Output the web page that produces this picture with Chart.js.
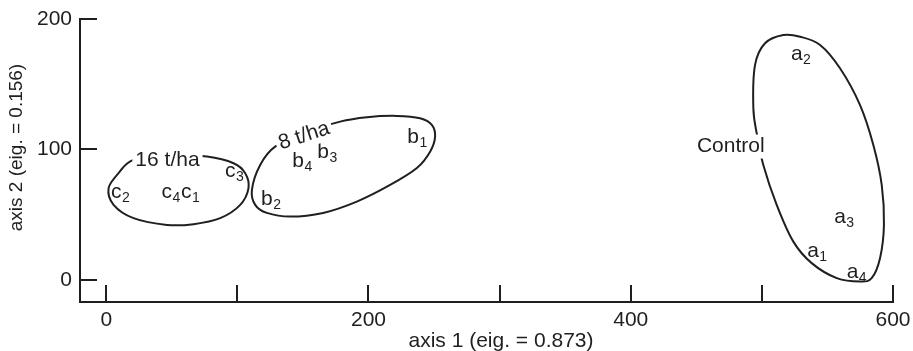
<!DOCTYPE html>
<html><head><meta charset="utf-8">
<script src="https://cdn.jsdelivr.net/npm/chart.js@4.4.1/dist/chart.umd.min.js"></script>
<style>html,body{margin:0;padding:0;background:#fff}#wrap{width:913px;height:351px}</style>
</head><body><div id="wrap"><canvas id="c" width="913" height="351"></canvas></div>
<script>
// ---- data ----
const xTickValues = [0, 100, 200, 300, 400, 500, 600];
const xTickLabels = ['0', '', '200', '', '400', '', '600'];
const yTickValues = [0, 100, 200];
const yTickLabels = ['0', '100', '200'];

const sampleLetter = ['c', 'c', 'c', 'c', 'b', 'b', 'b', 'b', 'a', 'a', 'a', 'a'];
const sampleSub    = ['1', '2', '3', '4', '1', '2', '3', '4', '1', '2', '3', '4'];
const sampleX = [61.0, 7.6, 94.5, 46.1, 234.0, 122.5, 165.4, 146.4, 539.0, 526.6, 559.6, 569.1];
const sampleY = [67.0, 66.7, 83.1, 67.0, 108.8, 61.3, 97.3, 90.6, 21.7, 172.4, 47.5, 5.7];

const groupNames = ['16 t/ha', '8 t/ha', 'Control'];
const groupX = [46.7, 150.9, 476.3];
const groupY = [91.6, 110.3, 102.2];

const hull16X = [20.8, 9.4, 1.8, 5.6, 20.8, 46.3, 66.6, 86.9, 102.2, 108.5, 106.0, 97.1, 76.8, 48.8];
const hull16Y = [92.0, 81.8, 70.3, 57.5, 47.3, 42.1, 42.7, 47.3, 57.5, 70.3, 81.8, 89.4, 94.5, 95.8];
const hull8X = [128.8, 117.4, 111.1, 113.6, 122.5, 140.3, 165.4, 191.1, 216.5, 236.9, 247.0, 250.8, 248.3, 239.4, 221.6, 198.8, 178.4, 151.7];
const hull8Y = [102.1, 88.1, 69.0, 57.5, 51.3, 48.5, 51.3, 60.0, 72.8, 85.8, 98.3, 109.8, 118.8, 123.9, 125.7, 124.7, 121.3, 112.6];
const hullCtrlX = [516.4, 502.4, 494.8, 493.5, 496.3, 501.1, 511.3, 524.0, 538.0, 557.1, 574.8, 583.7, 590.1, 593.1, 591.4, 585.0, 574.8, 559.6, 544.4, 529.2];
const hullCtrlY = [187.7, 181.4, 164.8, 131.6, 111.1, 88.1, 57.5, 29.3, 12.8, 1.3, -1.3, 1.3, 16.6, 42.1, 72.8, 103.4, 134.1, 162.2, 180.1, 186.4];

const xTitle = 'axis 1 (eig. = 0.873)';
const yTitle = 'axis 2 (eig. = 0.156)';

// ---- styling ----
const INK = '#1f1f1f';
const FONT = '"Liberation Sans", Arial, Helvetica, sans-serif';
const groupTilt = [0, -18, 0];

function closedSpline(ctx, p) {
  const n = p.length;
  ctx.beginPath();
  ctx.moveTo(p[0][0], p[0][1]);
  for (let i = 0; i < n; i++) {
    const p0 = p[(i - 1 + n) % n], p1 = p[i], p2 = p[(i + 1) % n], p3 = p[(i + 2) % n];
    ctx.bezierCurveTo(
      p1[0] + (p2[0] - p0[0]) / 6, p1[1] + (p2[1] - p0[1]) / 6,
      p2[0] - (p3[0] - p1[0]) / 6, p2[1] - (p3[1] - p1[1]) / 6,
      p2[0], p2[1]);
  }
  ctx.closePath();
  ctx.stroke();
}

const ordPlugin = {
  id: 'ord',
  beforeDatasetsDraw(chart) {
    const { ctx, scales: { x, y }, chartArea: ca } = chart;
    ctx.save();
    ctx.strokeStyle = INK;
    ctx.lineWidth = 2;
    ctx.lineJoin = 'round';
    // inward tick marks
    ctx.beginPath();
    xTickValues.forEach(v => { const px = Math.round(x.getPixelForValue(v)); ctx.moveTo(px, ca.bottom); ctx.lineTo(px, ca.bottom - 17); });
    yTickValues.forEach(v => { const py = Math.round(y.getPixelForValue(v)); ctx.moveTo(ca.left, py); ctx.lineTo(ca.left + 17, py); });
    ctx.stroke();
    // hulls
    [[hull16X, hull16Y], [hull8X, hull8Y], [hullCtrlX, hullCtrlY]].forEach(([hx, hy]) => {
      closedSpline(ctx, hx.map((v, i) => [x.getPixelForValue(v), y.getPixelForValue(hy[i])]));
    });
    ctx.restore();
  },
  afterDatasetsDraw(chart) {
    const { ctx, scales: { x, y } } = chart;
    ctx.save();
    ctx.fillStyle = INK;
    // sample labels with subscripts
    const meta = chart.getDatasetMeta(0);
    meta.data.forEach((pt, i) => {
      ctx.font = '21px ' + FONT;
      ctx.textAlign = 'center';
      ctx.textBaseline = 'alphabetic';
      const base = pt.y + 5.5;
      ctx.fillText(sampleLetter[i], pt.x, base);
      const w = ctx.measureText(sampleLetter[i]).width;
      ctx.font = '14px ' + FONT;
      ctx.textAlign = 'left';
      ctx.fillText(sampleSub[i], pt.x + w / 2 + 0.5, base + 4);
    });
    // group labels on white
    groupNames.forEach((name, i) => {
      const px = x.getPixelForValue(groupX[i]), py = y.getPixelForValue(groupY[i]);
      ctx.save();
      ctx.translate(px, py);
      ctx.rotate(groupTilt[i] * Math.PI / 180);
      ctx.font = '21px ' + FONT;
      const w = ctx.measureText(name).width;
      ctx.fillStyle = '#fff';
      ctx.fillRect(-w / 2 - 3, -12, w + 6, 24);
      ctx.fillStyle = INK;
      ctx.textAlign = 'center';
      ctx.textBaseline = 'middle';
      ctx.fillText(name, 0, 0);
      ctx.restore();
    });
    // axis titles
    ctx.font = '21px ' + FONT;
    ctx.textAlign = 'center';
    ctx.textBaseline = 'middle';
    ctx.fillText(xTitle, 501, 341);
    ctx.save();
    ctx.translate(16.5, 147.5);
    ctx.rotate(-Math.PI / 2);
    ctx.font = '19px ' + FONT;
    ctx.fillText(yTitle, 0, 0);
    ctx.restore();
    ctx.restore();
  }
};

new Chart(document.getElementById('c'), {
  type: 'scatter',
  data: {
    datasets: [{
      data: sampleX.map((v, i) => ({ x: v, y: sampleY[i] })),
      pointRadius: 0,
      pointHoverRadius: 0,
      showLine: false
    }]
  },
  options: {
    responsive: false,
    devicePixelRatio: 1,
    animation: false,
    events: [],
    layout: { padding: { top: 19, right: 20, left: 0, bottom: 0 } },
    plugins: { legend: { display: false }, tooltip: { enabled: false } },
    scales: {
      x: {
        type: 'linear', min: -20, max: 600,
        grid: { display: false, drawTicks: false },
        border: { display: true, color: INK, width: 2 },
        afterBuildTicks: s => { s.ticks = xTickValues.map(v => ({ value: v })); },
        afterFit: s => { s.height = 49; s.paddingLeft = 0; s.paddingRight = 0; },
        ticks: {
          autoSkip: false, maxRotation: 0, padding: 6, color: INK,
          font: { family: FONT, size: 21 },
          callback: (v, i) => xTickLabels[i]
        }
      },
      y: {
        type: 'linear', min: -17, max: 200,
        grid: { display: false, drawTicks: false },
        border: { display: true, color: INK, width: 2 },
        afterBuildTicks: s => { s.ticks = yTickValues.map(v => ({ value: v })); },
        afterFit: s => { s.width = 80; s.paddingTop = 0; s.paddingBottom = 0; },
        ticks: {
          autoSkip: false, padding: 8, color: INK,
          font: { family: FONT, size: 21 },
          callback: (v, i) => yTickLabels[i]
        }
      }
    }
  },
  plugins: [ordPlugin]
});
</script>
</body></html>
